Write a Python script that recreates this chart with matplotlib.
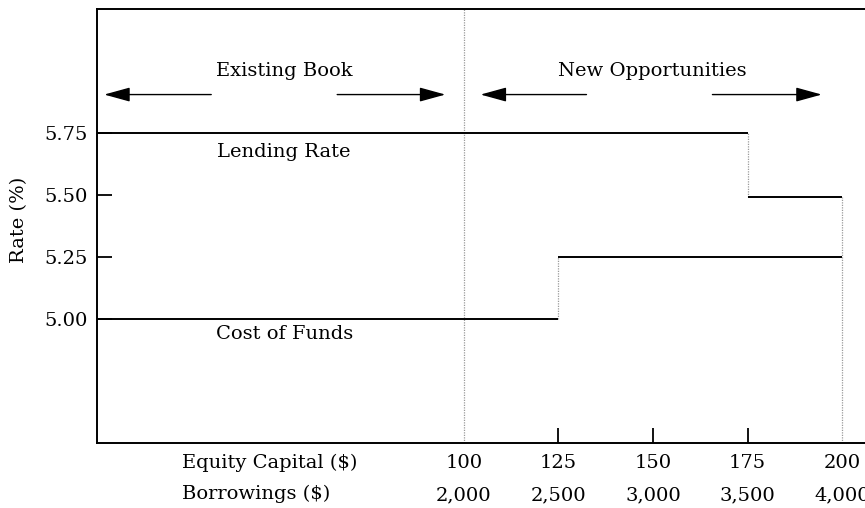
import matplotlib
matplotlib.use('Agg')
import matplotlib.pyplot as plt

plt.rcParams['font.family'] = ['DejaVu Serif']

# ── Data ──
equity = [100, 125, 150, 175, 200]
borrowings = [2000, 2500, 3000, 3500, 4000]
y_ticks = [5.00, 5.25, 5.50, 5.75]

lend_edges = [3, 175, 200]      # equity capital where each lending step starts / ends
lend_rate = [5.75, 5.49]
cost_edges = [3, 125, 200]
cost_rate = [5.00, 5.25]

FS = 14

fig = plt.figure(figsize=(8.65, 5.08), dpi=100)
ax = fig.add_axes([97/865, 1 - 443/508, (880 - 97)/865, (443 - 9)/508])
ax.set_xlim(3, 210)
ax.set_ylim(4.5, 6.25)

for s in ax.spines.values():
    s.set_linewidth(1.4)

# horizontal rate levels
ax.hlines(lend_rate, lend_edges[:-1], lend_edges[1:], color='black', lw=1.4, zorder=3)
ax.hlines(cost_rate, cost_edges[:-1], cost_edges[1:], color='black', lw=1.4, zorder=3)

# dotted step risers and divider lines
dot = dict(color='#9a9a9a', lw=0.9, linestyles=(0, (1, 1)), zorder=2)
ax.vlines(lend_edges[1], lend_rate[1], lend_rate[0], **dot)
ax.vlines(cost_edges[1], cost_rate[0], cost_rate[1], **dot)
ax.vlines(equity[-1], 4.5, lend_rate[1], **dot)
ax.vlines(equity[0], 4.5, 6.25, **dot)

# ticks
ax.set_yticks(y_ticks)
ax.set_yticklabels([f'{v:.2f}' for v in y_ticks])
ax.set_xticks(equity)
ax.set_xticklabels([str(v) for v in equity])
ax.tick_params(direction='in', length=11, width=1.3, labelsize=FS, pad=7)
ax.tick_params(axis='x', pad=8)
xt = ax.xaxis.get_major_ticks()
for t in (xt[0], xt[-1]):
    t.tick1line.set_visible(False)

sec = ax.secondary_xaxis('bottom', functions=(lambda x: x * 20, lambda x: x / 20))
sec.set_xticks(borrowings)
sec.set_xticklabels([f'{v:,}' for v in borrowings])
sec.tick_params(length=0, labelsize=FS, pad=31)
sec.spines['bottom'].set_visible(False)

fig.text(182/865, 1 - 463/508, 'Equity Capital (\\$)', fontsize=FS, va='center', ha='left')
fig.text(182/865, 1 - 494/508, 'Borrowings (\\$)', fontsize=FS, va='center', ha='left')
fig.text(19/865, 1 - 220/508, 'Rate (%)', fontsize=FS, rotation=90, va='center', ha='center')

# region labels and arrows
arw = dict(arrowstyle='-|>,head_length=0.8,head_width=0.22', color='black',
           lw=1.0, mutation_scale=20, shrinkA=0, shrinkB=0)
ya = 5.905
ax.text(52.5, 6.0, 'Existing Book', ha='center', va='center', fontsize=FS)
ax.annotate('', xy=(4.9, ya), xytext=(33.2, ya), arrowprops=arw)
ax.annotate('', xy=(95.1, ya), xytext=(66.5, ya), arrowprops=arw)

ax.text(149.9, 6.0, 'New Opportunities', ha='center', va='center', fontsize=FS)
ax.annotate('', xy=(104.4, ya), xytext=(132.4, ya), arrowprops=arw)
ax.annotate('', xy=(194.6, ya), xytext=(165.7, ya), arrowprops=arw)

ax.text(52.5, 5.673, 'Lending Rate', ha='center', va='center', fontsize=FS)
ax.text(52.5, 4.939, 'Cost of Funds', ha='center', va='center', fontsize=FS)

fig.savefig('out.png', dpi=100)
